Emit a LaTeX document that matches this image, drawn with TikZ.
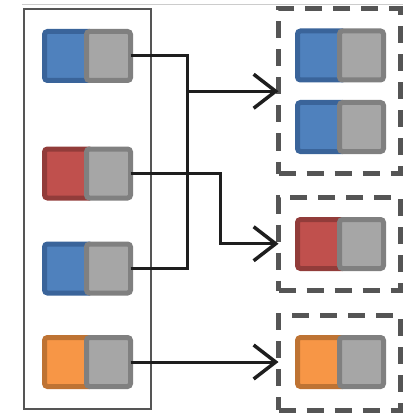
\documentclass[tikz,border=0pt]{standalone}
\usetikzlibrary{arrows.meta}
\definecolor{blueF}{HTML}{4F81BD}\definecolor{blueD}{HTML}{3A649A}
\definecolor{redF}{HTML}{C0504D}\definecolor{redD}{HTML}{923C3A}
\definecolor{orgF}{HTML}{F79646}\definecolor{orgD}{HTML}{BE7333}
\definecolor{grayF}{HTML}{A6A6A6}\definecolor{grayD}{HTML}{808080}
\definecolor{frame}{HTML}{555555}\definecolor{wire}{HTML}{1E1E1E}
\tikzset{
  colpart/.style={rectangle, rounded corners=3pt, line width=5pt, minimum width=47.5pt, minimum height=49pt, inner sep=0pt, outer sep=0pt},
  graypart/.style={rectangle, rounded corners=3pt, line width=5pt, draw=grayD, fill=grayF, minimum width=44pt, minimum height=49pt, inner sep=0pt, outer sep=0pt},
  groupbox/.style={rectangle, draw=frame, line width=5pt, dash pattern=on 17pt off 11pt, minimum width=121.5pt, inner sep=0pt, outer sep=0pt},
  conn/.style={draw=wire, line width=3pt},
  arr/.style={conn, -{Straight Barb[length=22pt, width=34pt, line width=3.5pt]}}
}
% one two-part chip: #1 name, #2 left x, #3 centre y, #4 fill, #5 border
\newcommand{\chip}[5]{%
  \node[colpart, fill=#4, draw=#5] (#1c) at (#2+26.25,#3) {};
  \node[graypart] (#1) at (#2+66.5,#3) {};
}
\begin{document}
\begin{tikzpicture}[x=1pt,y=-1pt]
\useasboundingbox (0,0) rectangle (403,414);
\draw[line width=0.6pt, black!20] (22,4) -- (403,4);
% source column
\node[draw=frame, line width=2pt, rectangle, minimum width=127pt, minimum height=400pt, inner sep=0pt, outer sep=0pt] (src) at (87.5,209) {};
% target groups
\node[groupbox, minimum height=164.5pt] (B1) at (339.25,91.25) {};
\node[groupbox, minimum height=93.5pt] (B2) at (339.25,243.75) {};
\node[groupbox, minimum height=95pt] (B3) at (339.25,362.5) {};
% junctions
\coordinate (j1) at (187,91.25);
\coordinate (j2) at (220,243.75);
% source chips
\chip{L1}{42}{56}{blueF}{blueD}
\chip{L2}{42}{173.5}{redF}{redD}
\chip{L3}{42}{268.5}{blueF}{blueD}
\chip{L4}{42}{362}{orgF}{orgD}
% wires
\draw[conn] (L1.east) -| (j1);
\draw[conn] (L3.east) -| (j1);
\draw[arr] (j1) -- (B1.west);
\draw[arr] (L2.east) -| (j2) -- (B2.west);
\draw[arr] (L4.east) -- (L4.east -| B3.west);
% target chips
\chip{R1}{295}{55.5}{blueF}{blueD}
\chip{R2}{295}{127}{blueF}{blueD}
\chip{R3}{295}{244}{redF}{redD}
\chip{R4}{295}{362}{orgF}{orgD}
\end{tikzpicture}
\end{document}
